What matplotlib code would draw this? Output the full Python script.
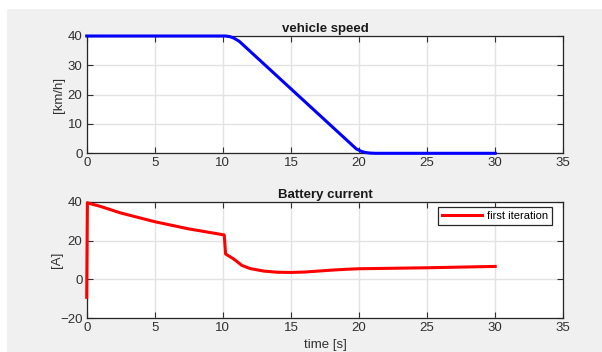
"""Vehicle speed and battery current over a braking run."""

import matplotlib.pyplot as plt
from matplotlib.patches import Rectangle

plt.rcParams["font.family"] = ["Liberation Sans", "DejaVu Sans"]

# vehicle speed [km/h]
speed_time = [0, 10.2, 10.5, 10.8, 11.2, 19.8, 20.2, 20.5, 20.8, 21.2, 30]
speed_kmh = [40, 40, 39.8, 39.3, 38.2, 1.5, 0.6, 0.25, 0.08, 0, 0]

# battery current [A], first iteration
current_time = [0, 0.05, 0.1, 1, 2.5, 5, 7.5, 10.1, 10.2, 10.8, 11.4, 12, 13, 14,
                15, 16, 17, 18, 19, 20, 25, 30]
current_a = [-9.2, 39.5, 39.3, 37.6, 34.2, 29.7, 26.0, 22.9, 13.1, 10.5, 7.2, 5.6,
             4.3, 3.7, 3.6, 3.8, 4.3, 4.8, 5.2, 5.5, 6.0, 6.7]

X_TICKS = [0, 5, 10, 15, 20, 25, 30, 35]
BG = "#f0f0f0"
TEXT = "#303030"


def style_axis(ax):
    ax.set_facecolor("white")
    ax.set_xlim(0, 35)
    ax.set_xticks(X_TICKS)
    ax.grid(True, color="#e3e3e3", linewidth=1.0)
    ax.set_axisbelow(True)
    ax.tick_params(direction="in", top=True, right=True, labelsize=9.5,
                   colors=TEXT, length=4, width=0.8, pad=3)
    for spine in ax.spines.values():
        spine.set_color("#262626")
        spine.set_linewidth(0.9)


fig = plt.figure(figsize=(6.02, 3.52), dpi=100, facecolor=BG)
# white margin strips along the top and left
fig.patches.append(Rectangle((0, 0), 7 / 602, 1, transform=fig.transFigure,
                             facecolor="white", edgecolor="none", zorder=-1))
fig.patches.append(Rectangle((0, 1 - 9 / 352), 1, 9 / 352, transform=fig.transFigure,
                             facecolor="white", edgecolor="none", zorder=-1))

ax1 = fig.add_axes([86.7 / 602, 1 - 153.3 / 352, 476.6 / 602, 117.3 / 352])
ax2 = fig.add_axes([86.7 / 602, 1 - 318.3 / 352, 476.6 / 602, 116.6 / 352])

ax1.plot(speed_time, speed_kmh, color="#0000ff", linewidth=2.2, clip_on=False, zorder=5)
style_axis(ax1)
ax1.set_ylim(0, 40)
ax1.set_yticks([0, 10, 20, 30, 40])
ax1.set_ylabel("[km/h]", fontsize=9.5, color=TEXT, labelpad=2)
ax1.set_title("vehicle speed", fontsize=9.5, fontweight="bold", color="#1a1a1a", pad=3)

ax2.plot(current_time, current_a, color="#ff0000", linewidth=2.2, label="first iteration",
         clip_on=False, zorder=5)
style_axis(ax2)
ax2.set_ylim(-20, 40)
ax2.set_yticks([-20, 0, 20, 40])
ax2.set_ylabel("[A]", fontsize=9.5, color=TEXT, labelpad=-2)
ax2.set_xlabel("time [s]", fontsize=9.5, color=TEXT, labelpad=3)
ax2.set_title("Battery current", fontsize=9.5, fontweight="bold", color="#1a1a1a", pad=3)
leg = ax2.legend(loc="upper right", fontsize=8, fancybox=False, framealpha=1,
                 edgecolor="#262626", handlelength=3.6, handletextpad=0.45,
                 borderpad=0.35, borderaxespad=0, bbox_to_anchor=(0.976, 0.955))
leg.get_frame().set_linewidth(0.9)

fig.savefig("out.png", dpi=100, facecolor=BG)
